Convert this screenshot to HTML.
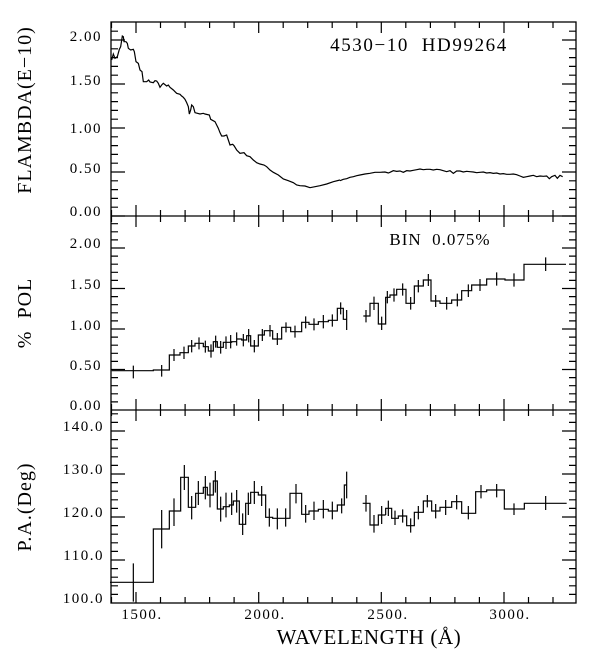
<!DOCTYPE html>
<html><head><meta charset="utf-8"><style>
html,body{margin:0;padding:0;background:#fff;}
svg{display:block;}
text{font-family:"Liberation Serif",serif;fill:#000;white-space:pre;}
</style></head><body>
<svg width="615" height="657" viewBox="0 0 615 657" xmlns="http://www.w3.org/2000/svg">
<defs>
<path id="xt" d="M111.5 0v6M136 0v11M160.5 0v6M185.1 0v6M209.6 0v6M234.1 0v6M258.7 0v11M283.2 0v6M307.7 0v6M332.2 0v6M356.8 0v6M381.3 0v11M405.8 0v6M430.4 0v6M454.9 0v6M479.4 0v6M504 0v11M528.5 0v6M553 0v6" stroke="#000" stroke-width="1.2" fill="none"/>
<path id="yt1" d="M0 216h14M0 207.2h7M0 198.4h7M0 189.6h7M0 180.8h7M0 172h14M0 163.2h7M0 154.4h7M0 145.6h7M0 136.8h7M0 128h14M0 119.2h7M0 110.4h7M0 101.6h7M0 92.8h7M0 84h14M0 75.2h7M0 66.4h7M0 57.6h7M0 48.8h7M0 40h14M0 31.2h7" stroke="#000" stroke-width="1.2"/>
<path id="yt2" d="M0 401.9h7M0 393.8h7M0 385.7h7M0 377.6h7M0 369.5h14M0 361.4h7M0 353.3h7M0 345.2h7M0 337.1h7M0 329h14M0 320.9h7M0 312.8h7M0 304.7h7M0 296.6h7M0 288.5h14M0 280.4h7M0 272.3h7M0 264.2h7M0 256.1h7M0 248h14M0 239.9h7M0 231.8h7M0 223.7h7" stroke="#000" stroke-width="1.2"/>
<path id="yt3" d="M0 594.4h7M0 585.8h7M0 577.2h7M0 568.6h7M0 560h14M0 551.4h7M0 542.8h7M0 534.2h7M0 525.6h7M0 517h14M0 508.4h7M0 499.8h7M0 491.2h7M0 482.6h7M0 474h14M0 465.4h7M0 456.8h7M0 448.2h7M0 439.6h7M0 431h14M0 422.4h7M0 413.8h7" stroke="#000" stroke-width="1.2"/>
</defs>
<rect x="111" y="22" width="465" height="581" fill="none" stroke="#000" stroke-width="1.3"/>
<line x1="111" y1="216" x2="576" y2="216" stroke="#000" stroke-width="1.3"/>
<line x1="111" y1="410" x2="576" y2="410" stroke="#000" stroke-width="1.3"/>
<use href="#xt" transform="translate(0,22)"/>
<use href="#xt" transform="translate(0,216)"/>
<use href="#xt" transform="translate(0,216) scale(1,-1)"/>
<use href="#xt" transform="translate(0,410)"/>
<use href="#xt" transform="translate(0,410) scale(1,-1)"/>
<use href="#xt" transform="translate(0,603) scale(1,-1)"/>
<use href="#yt1" transform="translate(111,0)"/><use href="#yt1" transform="translate(576,0) scale(-1,1)"/>
<use href="#yt2" transform="translate(111,0)"/><use href="#yt2" transform="translate(576,0) scale(-1,1)"/>
<use href="#yt3" transform="translate(111,0)"/><use href="#yt3" transform="translate(576,0) scale(-1,1)"/>

<g transform="translate(100,10) scale(0.33333)" fill="none" stroke="#000" stroke-width="1.2">
<polyline vector-effect="non-scaling-stroke" points="35,150 40,132 45,145 52,140 58,118 62,110 67,78 70,80 72,95 78,95 82,100 85,115 92,120 100,118 103,125 108,155 115,160 120,180 126,185 130,215 140,215 146,210 150,216 160,218 165,212 170,213 175,220 180,232 185,225 190,220 200,228 205,225 210,232 220,240 225,245 230,250 240,253 245,258 250,262 255,268 260,278 265,290 268,312 272,300 275,285 280,290 285,308 300,312 310,310 315,312 328,315 332,328 345,335 350,345 355,355 360,368 365,378 372,378 380,375 385,390 390,405 398,403 402,407 410,420 420,430 432,428 440,437 450,440 460,450 470,458 480,462 492,465 500,470 510,480 520,487 535,495 550,507 565,512 580,518 590,525 600,527 615,528 630,533 645,530 660,527 680,522 700,515 720,510"/>
</g>
<g transform="translate(340,140) scale(0.33333)" fill="none" stroke="#000" stroke-width="1.2">
<polyline vector-effect="non-scaling-stroke" points="0,122 10,118 20,116 30,112 40,110 50,107 60,105 75,102 90,100 105,97 120,97 135,96 145,99 150,97 160,92 170,94 180,93 190,97 200,92 210,93 220,91 230,89 240,87 250,89 260,88 270,88 280,90 290,88 300,89 310,92 320,95 330,92 340,100 350,93 360,93 370,96 380,94 390,95 400,96 410,98 420,97 430,96 440,99 450,98 460,100 470,99 480,102 490,101 500,103 510,103 520,102 530,104 540,108 550,112 560,110 570,108 580,106 590,110 600,108 610,109 620,108 628,116 635,110 645,106 652,115 660,106 668,110"/>
</g>

<g transform="translate(100,215) scale(0.33333)" fill="none" stroke="#000" stroke-width="1.2">
<path vector-effect="non-scaling-stroke" d="M35 467H160V465H208V420H240V413H265V393H285V385H310V395H325V408H340V380H352V397H370V382H395V380H410V372H425V375H440V362H452V393H475V360H493V347H518V372H545V337H572V350H605V322H627V328H655V320H685V316H712V280H730V313H740
M790 303H810V265H835V327H857V247H870V240H890V223H918V265H943V213H970V195H993V258H1020V265H1055V255H1085V227H1115V210H1160V192H1215V195H1272V148H1398
M100 452V490M185 450V485M222 402V438M252 395V432M275 375V412M297 367V403M316 377V413M333 388V428M347 362V398M362 378V416M378 364V402M392 360V400M410 352V392M430 357V394M446 342V382M463 375V412M487 342V378M510 330V365M532 354V390M558 322V352M585 332V368M617 304V340M642 310V346M670 300V340M697 298V335M722 262V298M740 285V345M798 285V322M822 245V285M845 305V345M862 228V265M882 220V260M908 205V242M932 246V284M955 195V232M985 177V213M1007 240V276M1040 246V284M1072 236V274M1105 208V246M1140 192V228M1190 172V212M1242 175V215M1337 127V168
M45 467H80"/>
</g>

<g transform="translate(100,400) scale(0.33333)" fill="none" stroke="#000" stroke-width="1.2">
<path vector-effect="non-scaling-stroke" d="M30 547H160V387H208V333H242V232H265V322H287V280H310V262H322V285H340V243H352V327H370V320H388V315H400V303H418V373H437V310H452V277H475V285H497V352H518V355H570V280H605V343H627V333H655V328H685V333H712V315H733V255H740
M788 310H810V375H835V345H857
M100 490V605M185 330V445M222 295V378M253 195V270M275 288V358M295 243V315M316 228V298M330 248V322M346 213V278M362 290V365M378 278V352M395 278V345M410 270V338M428 340V405M445 278V345M463 243V312M485 258V318M508 325V380M532 325V388M557 325V380M588 252V310M617 315V368M642 305V360M670 300V355M697 305V358M725 295V340M740 215V295M798 285V335M822 345V398M845 318V372"/>
</g>
<g transform="translate(380,410) scale(0.33333)" fill="none" stroke="#000" stroke-width="1.2">
<path vector-effect="non-scaling-stroke" d="M17 315V295H35V325H55V318H80V347H103V307H130V273H155V303H180V292H215V275H245V310H287V245H320V240H373V297H433V280H560
M25 272V318M45 302V345M68 298V338M92 325V368M115 288V328M142 255V292M167 282V325M197 270V315M230 255V298M265 288V328M303 225V265M350 222V262M402 280V315M497 258V300"/>
</g>

<g font-size="15" text-anchor="end" letter-spacing="1.5">
<text x="102" y="41">2.00</text><text x="102" y="85">1.50</text><text x="102" y="133">1.00</text><text x="102" y="173">0.50</text><text x="102" y="216">0.00</text>
<text x="102" y="248">2.00</text><text x="102" y="289">1.50</text><text x="102" y="330">1.00</text><text x="102" y="370">0.50</text><text x="102" y="410">0.00</text>
<text x="104" y="431">140.0</text><text x="104" y="474">130.0</text><text x="104" y="517">120.0</text><text x="104" y="560">110.0</text><text x="104" y="603">100.0</text>
</g>
<g font-size="15" text-anchor="middle" letter-spacing="1.5">
<text x="142" y="619">1500.</text><text x="265" y="619">2000.</text><text x="388" y="619">2500.</text><text x="510" y="619">3000.</text>
</g>
<text x="369" y="644" font-size="21" text-anchor="middle" letter-spacing="0.6">WAVELENGTH (Å)</text>
<text x="419" y="51" font-size="19" text-anchor="middle" letter-spacing="1.6">4530−10  HD99264</text>
<text x="440" y="245" font-size="17" text-anchor="middle" letter-spacing="1">BIN  0.075%</text>
<text transform="translate(31,110) rotate(-90)" font-size="20" text-anchor="middle" letter-spacing="1">FLAMBDA(E−10)</text>
<text transform="translate(31,313) rotate(-90)" font-size="20" text-anchor="middle" letter-spacing="1">%  POL</text>
<text transform="translate(31,507) rotate(-90)" font-size="20" text-anchor="middle" letter-spacing="1">P.A.(Deg)</text>
</svg>
</body></html>
